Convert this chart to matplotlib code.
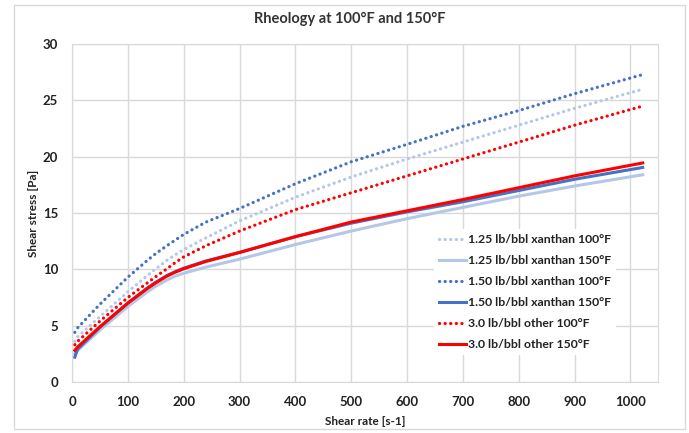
import numpy as np
import matplotlib.pyplot as plt
from matplotlib.patches import Rectangle

plt.rcParams['font.family'] = ['Lato', 'DejaVu Sans']

rate = [5, 10, 50, 100, 135, 150, 170, 185, 200, 240, 300, 400, 500, 600, 700, 800, 900, 1022]

x125_100 = [3.6, 4.0, 5.8, 8.0, 9.45, 10.05, 10.8, 11.3, 11.75, 12.8, 14.3, 16.4, 18.2, 19.8, 21.3, 22.8, 24.3, 26.0]
x125_150 = [2.5, 2.8, 4.6, 6.7, 8.0, 8.5, 9.05, 9.4, 9.65, 10.2, 10.9, 12.2, 13.4, 14.5, 15.5, 16.5, 17.4, 18.4]
x150_100 = [4.4, 4.8, 6.9, 9.3, 10.8, 11.4, 12.1, 12.6, 13.1, 14.2, 15.4, 17.6, 19.55, 21.1, 22.7, 24.1, 25.6, 27.3]
x150_150 = [2.2, 2.9, 4.85, 7.0, 8.35, 8.85, 9.45, 9.8, 10.1, 10.75, 11.5, 12.9, 14.1, 15.1, 16.0, 17.0, 18.0, 19.05]
oth_100 = [3.3, 3.6, 5.4, 7.5, 8.8, 9.35, 10.05, 10.6, 11.1, 12.1, 13.4, 15.3, 16.8, 18.3, 19.8, 21.3, 22.8, 24.5]
oth_150 = [2.8, 3.1, 4.9, 7.0, 8.3, 8.8, 9.4, 9.75, 10.05, 10.7, 11.5, 12.9, 14.2, 15.2, 16.2, 17.25, 18.3, 19.45]

labels = ["1.25 lb/bbl xanthan 100°F", "1.25 lb/bbl xanthan 150°F",
          "1.50 lb/bbl xanthan 100°F", "1.50 lb/bbl xanthan 150°F",
          "3.0 lb/bbl other 100°F", "3.0 lb/bbl other 150°F"]

light = "#B4C7E7"
blue = "#4472C4"
red = "#FF0000"

fig = plt.figure(figsize=(6.89, 4.33), dpi=100)
ax = fig.add_axes([0.1045, 0.118, 0.851, 0.78])

# light border around the whole chart
fig.patches.append(Rectangle((14/689, 4/433), 671/689, 424/433, transform=fig.transFigure,
                             fill=False, ec="#D9D9D9", lw=1))

dot = (0, (0.05, 1.7))
ax.plot(rate, x125_100, color=light, lw=2.3, ls=dot, dash_capstyle='round', label=labels[0])
ax.plot(rate, x125_150, color=light, lw=2.2, label=labels[1])
ax.plot(rate, x150_100, color=blue, lw=2.3, ls=dot, dash_capstyle='round', label=labels[2])
ax.plot(rate, x150_150, color=blue, lw=2.2, label=labels[3])
ax.plot(rate, oth_100, color=red, lw=2.3, ls=dot, dash_capstyle='round', label=labels[4])
ax.plot(rate, oth_150, color=red, lw=2.2, label=labels[5])

ax.set_xlim(0, 1050)
ax.set_ylim(0, 30)
ax.set_xticks(np.arange(0, 1001, 100))
ax.set_yticks(np.arange(0, 31, 5))
ax.grid(True, color="#D9D9D9", lw=1)
ax.set_axisbelow(True)
for s in ax.spines.values():
    s.set_color("#D9D9D9")
ax.tick_params(length=0, labelsize=9.5, pad=10, colors="#222222")
for t in ax.get_xticklabels() + ax.get_yticklabels():
    t.set_fontweight("bold")

ax.set_xlabel("Shear rate [s-1]", fontsize=8.5, fontweight="bold", color="#222222", labelpad=6)
ax.set_ylabel("Shear stress [Pa]", fontsize=8.5, fontweight="bold", color="#222222", labelpad=3)
fig.text(0.508, 0.957, "Rheology at 100°F and 150°F", ha="center", va="center",
         fontsize=10.5, fontweight="bold", color="#333333")

leg = ax.legend(loc="upper left", bbox_to_anchor=(0.6075, 0.47), frameon=True,
                facecolor="white", edgecolor="none", framealpha=1, fancybox=False,
                prop={"size": 8.8, "weight": "bold"}, handlelength=2.2,
                handletextpad=0.15, labelspacing=0.82, borderpad=0.4)
for t in leg.get_texts():
    t.set_color("#222222")

fig.savefig("out.png", dpi=100)
